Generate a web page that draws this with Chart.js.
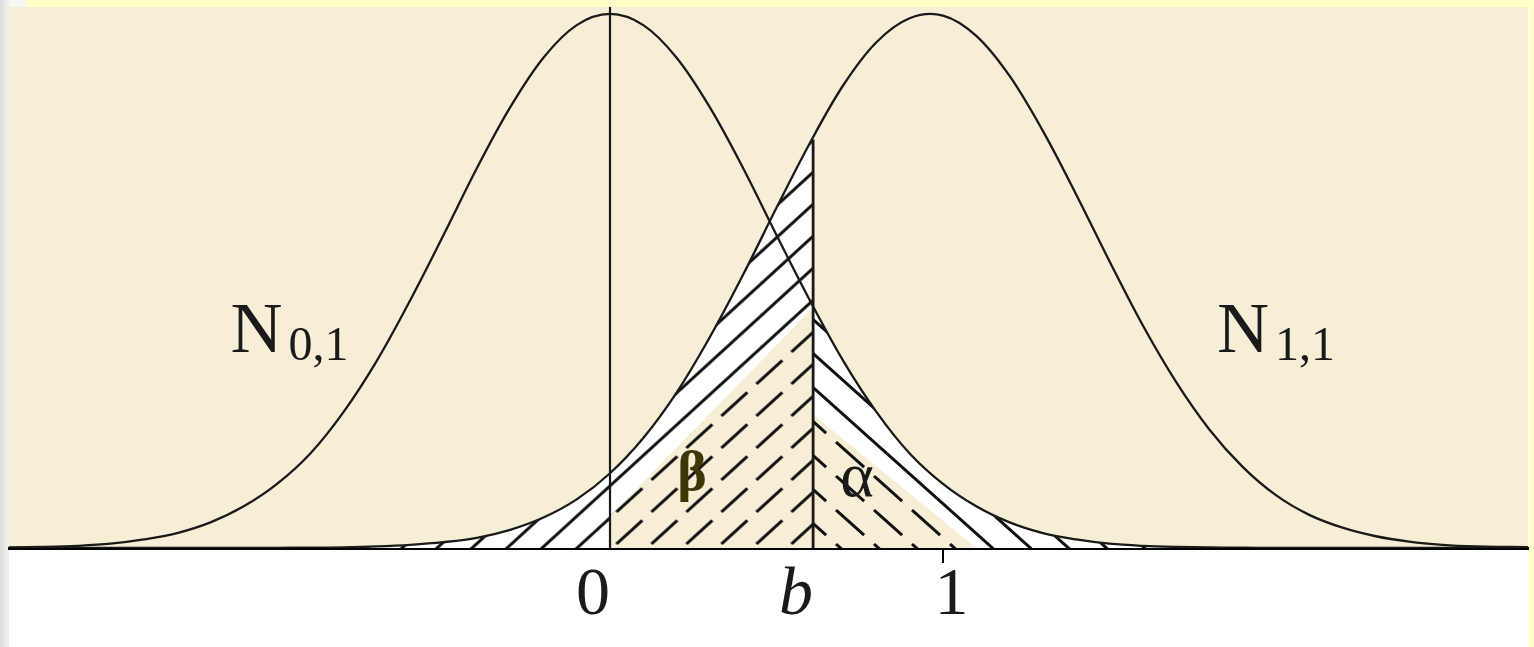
<!DOCTYPE html>
<html>
<head>
<meta charset="utf-8">
<script src="https://cdn.jsdelivr.net/npm/chart.js@4.4.1/dist/chart.umd.min.js"></script>
<style>
  html, body { margin: 0; padding: 0; background: #fff; }
  #page { position: relative; width: 1534px; height: 647px; overflow: hidden; }
  .strip { position: absolute; }
  #topStrip { left: 26px; top: 0; width: 1508px; height: 7px; background: #ffffc8; }
  #cornerStrip { left: 9px; top: 0; width: 17px; height: 7px; background: #f7f7f2; }
  #leftStrip { left: 0; top: 0; width: 9px; height: 647px; background: linear-gradient(to right, #dcdcdc, #f2f2f2); }
  #rightStrip { left: 1529px; top: 0; width: 5px; height: 647px; background: #ffffc8; }
  #wrap { position: absolute; left: 0; top: 0; width: 1534px; height: 647px; }
</style>
</head>
<body>
<div id="page">
  <div class="strip" id="topStrip"></div>
  <div class="strip" id="cornerStrip"></div>
  <div class="strip" id="leftStrip"></div>
  <div class="strip" id="rightStrip"></div>
  <div id="wrap"><canvas id="chart"></canvas></div>
</div>
<script>
// x positions shared by both curves
const xGrid = [-1.9, -1.8, -1.7, -1.6, -1.5, -1.4, -1.3, -1.2, -1.1, -1.0,
  -0.9, -0.8, -0.7, -0.6, -0.5, -0.4, -0.3, -0.2, -0.1, 0,
  0.1, 0.2, 0.3, 0.4, 0.5, 0.6, 0.7, 0.8, 0.9, 1.0,
  1.1, 1.2, 1.3, 1.4, 1.5, 1.6, 1.7, 1.8, 1.9, 2.0,
  2.1, 2.2, 2.3, 2.4, 2.5, 2.6, 2.7, 2.8];

// N(0,1) curve heights (peak = 1)
const n01 = [0.0005, 0.001, 0.002, 0.004, 0.008, 0.016, 0.028, 0.048, 0.078, 0.12,
  0.177, 0.255, 0.351, 0.464, 0.586, 0.711, 0.825, 0.918, 0.979, 1,
  0.979, 0.918, 0.825, 0.711, 0.586, 0.464, 0.351, 0.255, 0.177, 0.12,
  0.078, 0.048, 0.028, 0.016, 0.008, 0.004, 0.002, 0.001, 0.0005, 0,
  0, 0, 0, 0, 0, 0, 0, 0];

// N(1,1) curve heights
const n11 = [0, 0, 0, 0, 0, 0, 0, 0, 0, 0.0003,
  0.0006, 0.0013, 0.003, 0.006, 0.011, 0.019, 0.034, 0.057, 0.091, 0.14,
  0.206, 0.291, 0.395, 0.512, 0.637, 0.758, 0.866, 0.947, 0.992, 0.997,
  0.959, 0.884, 0.781, 0.662, 0.537, 0.417, 0.311, 0.222, 0.152, 0.099,
  0.062, 0.038, 0.022, 0.012, 0.006, 0.003, 0.002, 0.001];

// threshold b and the curve heights there
const bValue = 0.61;
const n11AtB = 0.765;
const n01AtB = 0.452;

// inner (unfilled) parts of the hatched areas
const betaInnerX = [0, 0.61];
const betaInnerY = [0.06, 0.45];
const alphaInnerX = [0.61, 1.1];
const alphaInnerY = [0.25, 0];

// axis ticks
const tickValues = [0, bValue, 1];
const tickLabels = ['0  ', 'b  ', ' 1'];

const BEIGE = '#f6efd6';
const INK = '#1a1a1a';
const SERIF = '"Liberation Serif", "DejaVu Serif", serif';

function hatch(w, h, dir, bg, dx, dashed) {
  const c = document.createElement('canvas');
  c.width = w; c.height = h;
  const g = c.getContext('2d');
  g.fillStyle = bg;
  g.fillRect(0, 0, w, h);
  g.strokeStyle = '#111';
  g.lineWidth = 3;
  const len = Math.hypot(w, h);
  if (dashed) g.setLineDash([len * 0.74, len * 0.26]);
  g.beginPath();
  if (dir > 0) { // "/"
    g.moveTo(-w, h); g.lineTo(w, -h);
    g.moveTo(0, h); g.lineTo(w, 0);
    g.moveTo(0, 2 * h); g.lineTo(2 * w, 0);
  } else { // "\"
    g.moveTo(-w, -h); g.lineTo(w, h);
    g.moveTo(0, -h); g.lineTo(2 * w, h);
    g.moveTo(-w, 0); g.lineTo(w, 2 * h);
  }
  g.stroke();
  const p = g.createPattern(c, 'repeat');
  if (p.setTransform) p.setTransform(new DOMMatrix([1, 0, 0, 1, dx, 0]));
  return p;
}

const ctx = document.getElementById('chart').getContext('2d');
const betaFill = hatch(35, 32, 1, '#ffffff', -13.6, false);
const alphaFill = hatch(38, 34, -1, '#ffffff', 0, false);
const betaInnerFill = hatch(35, 32, 1, BEIGE, -13.6, true);
const alphaInnerFill = hatch(38, 34, -1, BEIGE, 0, true);

const pts = (xs, ys) => xs.map((x, i) => ({ x: x, y: ys[i] }));
const betaPts = pts(xGrid, n11).filter(p => p.x < bValue).concat([{ x: bValue, y: n11AtB }]);
const alphaPts = [{ x: bValue, y: n01AtB }].concat(pts(xGrid, n01).filter(p => p.x > bValue));

// background of the plot area
const plotBg = {
  id: 'plotBg',
  beforeDraw(chart) {
    const a = chart.chartArea;
    const c = chart.ctx;
    c.save();
    c.fillStyle = BEIGE;
    c.fillRect(a.left, a.top, a.right - a.left, a.bottom - a.top);
    c.restore();
  }
};

// curve names and area letters
const labelsPlugin = {
  id: 'labelsPlugin',
  afterDraw(chart) {
    const c = chart.ctx;
    const xs = chart.scales.x, ys = chart.scales.y;
    c.save();
    c.fillStyle = INK;
    c.textBaseline = 'alphabetic';
    c.textAlign = 'left';
    [['0,1', -1.14], ['1,1', 1.823]].forEach(([sub, xv]) => {
      const px = xs.getPixelForValue(xv), py = ys.getPixelForValue(0.367);
      c.font = '72px ' + SERIF;
      c.fillText('N', px, py);
      const w = c.measureText('N').width;
      c.font = '48px ' + SERIF;
      c.fillText(sub, px + w + 6, py + 8);
    });
    c.textAlign = 'center';
    c.font = 'bold 56px ' + SERIF;
    c.fillStyle = '#3b3805';
    c.fillText('\u03b2', xs.getPixelForValue(0.246), ys.getPixelForValue(0.109));
    c.font = '64px ' + SERIF;
    c.fillStyle = INK;
    c.fillText('\u03b1', xs.getPixelForValue(0.742), ys.getPixelForValue(0.097));
    c.restore();
  }
};

const curve = { fill: false, borderColor: INK, borderWidth: 2.3, cubicInterpolationMode: 'default', tension: 0.35 };
const area = { borderColor: 'rgba(0,0,0,0)', borderWidth: 0, fill: 'origin', tension: 0.35 };
const rule = { borderColor: INK, fill: false, tension: 0, order: 0 };

new Chart(ctx, {
  type: 'line',
  data: {
    datasets: [
      Object.assign({ data: pts(xGrid, n01), order: 1 }, curve),
      Object.assign({ data: pts(xGrid, n11), order: 1 }, curve),
      Object.assign({ data: betaPts, backgroundColor: betaFill, order: 4 }, area),
      Object.assign({ data: alphaPts, backgroundColor: alphaFill, order: 4 }, area),
      Object.assign({ data: pts(betaInnerX, betaInnerY), backgroundColor: betaInnerFill, order: 3 }, area, { tension: 0 }),
      Object.assign({ data: pts(alphaInnerX, alphaInnerY), backgroundColor: alphaInnerFill, order: 3 }, area, { tension: 0 }),
      Object.assign({ data: [{ x: 0, y: 0 }, { x: 0, y: 1.1 }], borderWidth: 2.2 }, rule),
      Object.assign({ data: [{ x: bValue, y: 0 }, { x: bValue, y: n11AtB }], borderWidth: 2.8 }, rule)
    ]
  },
  options: {
    responsive: true,
    maintainAspectRatio: false,
    animation: false,
    layout: { padding: { left: 9, right: 6, top: 7, bottom: 0 } },
    elements: {
      point: { radius: 0, hoverRadius: 0 }
    },
    plugins: { legend: { display: false }, tooltip: { enabled: false } },
    scales: {
      x: {
        type: 'linear',
        min: -1.805,
        max: 2.757,
        afterBuildTicks: s => { s.ticks = tickValues.map(v => ({ value: v })); },
        afterFit: s => { s.height = 99; },
        ticks: {
          autoSkip: false,
          maxRotation: 0,
          padding: -8,
          color: INK,
          callback: (v, i) => tickLabels[i],
          font: c => ({ family: SERIF, size: 68, style: c.index === 1 ? 'italic' : 'normal' })
        },
        grid: {
          display: true,
          drawOnChartArea: false,
          drawTicks: true,
          tickLength: 15,
          lineWidth: 2,
          color: c => (c.tick && c.tick.value === 1) ? '#000' : 'rgba(0,0,0,0)'
        },
        border: { display: true, color: '#000', width: 3 }
      },
      y: {
        display: false,
        min: 0,
        max: 1.013
      }
    }
  },
  plugins: [plotBg, labelsPlugin]
});
</script>
</body>
</html>
